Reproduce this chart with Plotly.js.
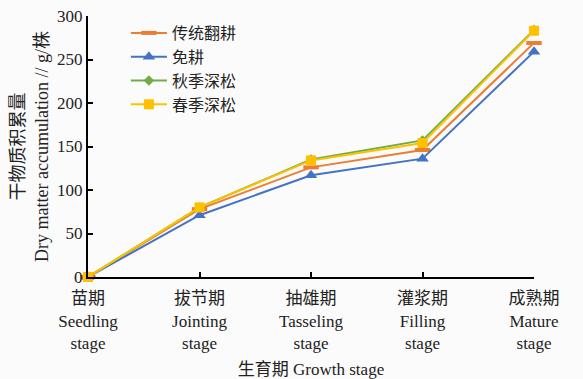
<!DOCTYPE html>
<html><head><meta charset="utf-8">
<script src="https://cdn.plot.ly/plotly-3.0.1.min.js"></script>
<style>html,body{margin:0;padding:0;background:#fbfbfb;}</style>
</head><body>
<div id="chart" style="width:583px;height:379px;"></div>
<script>
const stages = ["苗期<br>Seedling<br>stage", "拔节期<br>Jointing<br>stage", "抽雄期<br>Tasseling<br>stage", "灌浆期<br>Filling<br>stage", "成熟期<br>Mature<br>stage"];
const seriesNames = ["传统翻耕", "免耕", "秋季深松", "春季深松"];
const traditional = [0, 78, 126, 146, 269];
const noTill = [0, 71, 117, 136, 259];
const autumnSubsoil = [0, 80, 135, 157, 284];
const springSubsoil = [0, 80, 134, 154, 283];
const yTicks = [0, 50, 100, 150, 200, 250, 300];

const font = "Liberation Serif, Noto Sans CJK SC, serif";
const idx = stages.map((_, i) => i);
function tr(name, y, color, symbol, size, extra) {
  return {
    type: "scatter", mode: "lines+markers", name: name, x: idx, y: y,
    line: {color: color, width: 2},
    marker: Object.assign({color: color, symbol: symbol, size: size}, extra || {}),
    cliponaxis: false
  };
}
const data = [
  tr(seriesNames[0], traditional, "#ED7D31", "line-ew-open", 11, {line: {color: "#ED7D31", width: 4}}),
  tr(seriesNames[1], noTill, "#4472C4", "triangle-up", 11),
  tr(seriesNames[2], autumnSubsoil, "#70AD47", "diamond", 8),
  tr(seriesNames[3], springSubsoil, "#FFC000", "square", 10)
];
const layout = {
  width: 583, height: 379,
  margin: {l: 88, r: 49, t: 16, b: 102},
  paper_bgcolor: "#fbfbfb", plot_bgcolor: "#fbfbfb",
  font: {family: font, size: 16, color: "#222"},
  showlegend: true,
  legend: {x: 0.085, y: 1.0, xanchor: "left", yanchor: "top", bgcolor: "rgba(0,0,0,0)",
           font: {size: 16, family: font}, tracegroupgap: 0, itemwidth: 36},
  xaxis: {
    range: [0, 4], tickvals: idx, ticktext: stages,
    showgrid: false, zeroline: false, showline: true, linecolor: "#000", linewidth: 2,
    ticks: "inside", ticklen: 5, tickcolor: "#000", tickwidth: 2,
    ticklabelstandoff: 5,
    tickfont: {size: 17, family: font},
    title: {text: "生育期 Growth stage", font: {size: 17, family: font}, standoff: 14}
  },
  yaxis: {
    range: [0, 300], tickvals: yTicks,
    showgrid: false, zeroline: false, showline: true, linecolor: "#000", linewidth: 2,
    ticks: "inside", ticklen: 5, tickcolor: "#000", tickwidth: 2,
    tickfont: {size: 17, family: font},
    title: {text: "干物质积累量<br>Dry matter accumulation // g/株", font: {size: 18, family: font}, standoff: 4}
  }
};
Plotly.newPlot("chart", data, layout, {displayModeBar: false, staticPlot: true});
</script>
</body></html>
